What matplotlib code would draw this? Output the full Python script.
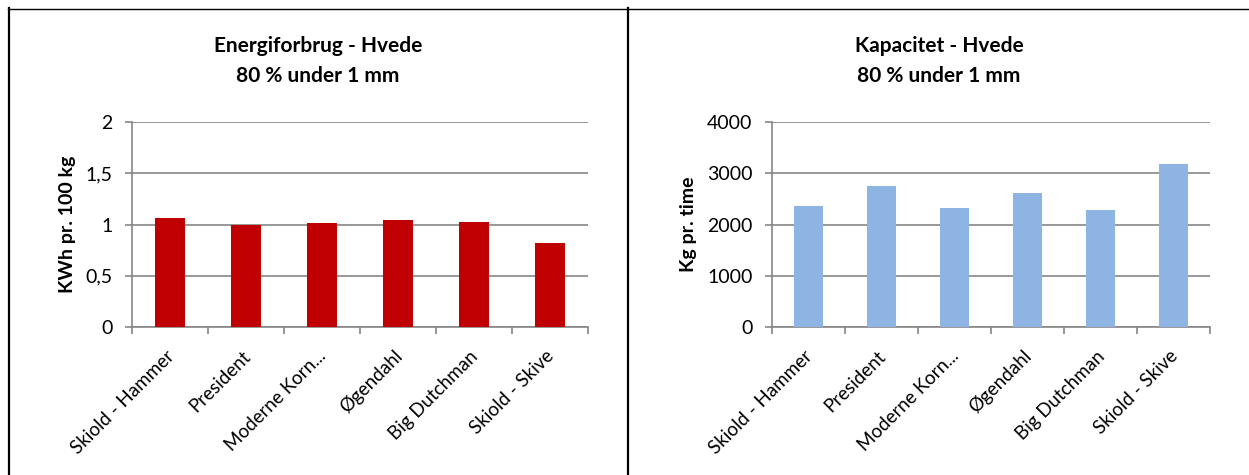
import matplotlib
matplotlib.use("Agg")
import matplotlib.pyplot as plt
from matplotlib.lines import Line2D
import numpy as np

plt.rcParams['font.family'] = ['Lato', 'DejaVu Sans']

# Mill types tested
machines = ["Skiold - Hammer", "President", "Moderne Korn...", "Øgendahl",
            "Big Dutchman", "Skiold - Skive"]

# Energy consumption, kWh per 100 kg
energy = [1.06, 1.00, 1.01, 1.04, 1.02, 0.82]
energy_ticks = [0, 0.5, 1, 1.5, 2]
energy_ticklabels = ["0", "0,5", "1", "1,5", "2"]

# Capacity, kg per hour
capacity = [2360, 2760, 2330, 2610, 2290, 3180]
capacity_ticks = [0, 1000, 2000, 3000, 4000]
capacity_ticklabels = ["0", "1000", "2000", "3000", "4000"]

W, H = 1249, 475
fig = plt.figure(figsize=(W / 100, H / 100), dpi=100)

GRID = "#868686"


def px_rect(x0, y0, x1, y1):
    return [x0 / W, 1 - y1 / H, (x1 - x0) / W, (y1 - y0) / H]


def bar_panel(rect, values, color, ticks, ticklabels, ylabel, title_lines,
              ymax, title_x):
    ax = fig.add_axes(rect)
    x = np.arange(len(values))
    ax.bar(x, values, width=0.4, color=color, zorder=3)
    ax.set_xlim(-0.5, len(values) - 0.5)
    ax.set_ylim(0, ymax)
    ax.set_yticks(ticks)
    ax.set_yticklabels(ticklabels, fontsize=14, color="black")
    ax.yaxis.grid(True, color=GRID, linewidth=1.2, zorder=0)
    ax.set_axisbelow(True)
    for s in ["top", "right"]:
        ax.spines[s].set_visible(False)
    for s in ["left", "bottom"]:
        ax.spines[s].set_color(GRID)
        ax.spines[s].set_linewidth(1.2)
    # category separators as tick marks on the x axis
    ax.set_xticks(np.arange(len(values) + 1) - 0.5)
    ax.set_xticklabels([])
    ax.tick_params(axis="x", length=5, color=GRID, width=1.2)
    ax.tick_params(axis="y", length=5, color=GRID, width=1.2, pad=9)
    for i, name in enumerate(machines):
        ax.annotate(name, xy=(i, 0), xycoords=("data", "axes fraction"),
                    xytext=(1, -19), textcoords="offset points",
                    rotation=45, rotation_mode="anchor",
                    ha="right", va="center", fontsize=13.5)
    ax.set_ylabel(ylabel, fontsize=14, fontweight="bold", labelpad=7)
    fig.text(title_x / W, 1 - 52 / H, title_lines[0], ha="center",
             va="baseline", fontsize=15, fontweight="bold")
    fig.text(title_x / W, 1 - 82 / H, title_lines[1], ha="center",
             va="baseline", fontsize=15, fontweight="bold")
    return ax


bar_panel(px_rect(132, 122, 588, 327), energy, "#C00000", energy_ticks,
          energy_ticklabels, "KWh pr. 100 kg",
          ["Energiforbrug - Hvede", "80 % under 1 mm"], 2, 318)
bar_panel(px_rect(772, 122, 1210, 327), capacity, "#8EB4E3", capacity_ticks,
          capacity_ticklabels, "Kg pr. time",
          ["Kapacitet - Hvede", "80 % under 1 mm"], 4000, 939)

# table frame around the two charts
def frame_line(x0, y0, x1, y1, lw):
    fig.add_artist(Line2D([x0 / W, x1 / W], [1 - y0 / H, 1 - y1 / H],
                          color="black", linewidth=lw,
                          transform=fig.transFigure))

frame_line(8, 8.5, 1249, 8.5, 1.0)
frame_line(8.8, 8, 8.8, 475, 1.6)
frame_line(627.8, 8, 627.8, 475, 1.6)

fig.savefig("out.png", dpi=100, facecolor="white")
